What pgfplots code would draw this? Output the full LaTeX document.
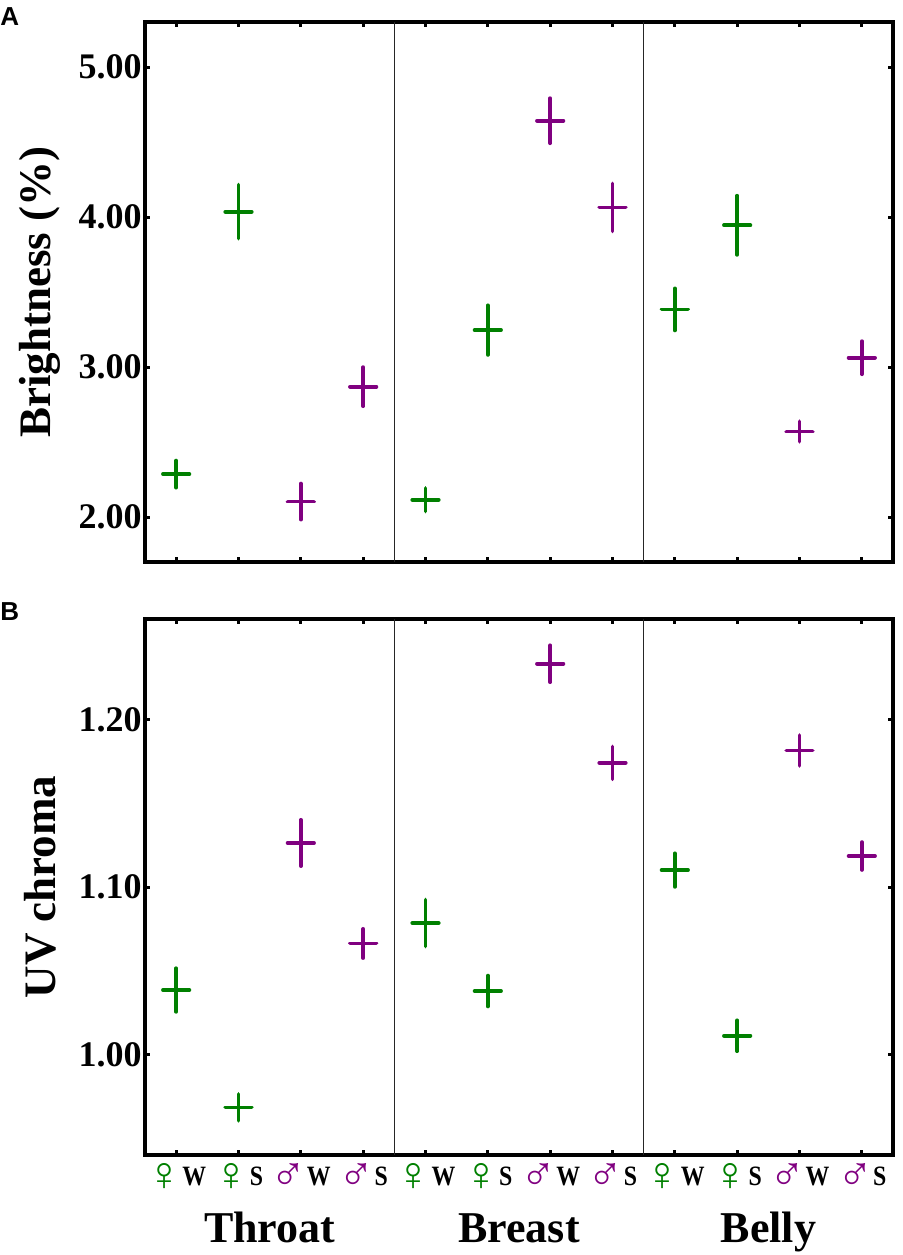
\documentclass[border=0pt]{standalone}
\usepackage{fontspec}
\setmainfont{Liberation Serif}
\setsansfont{Liberation Sans}
\newfontfamily\symfont{Liberation Serif}
\newfontfamily\condfont[FakeStretch=0.85]{Liberation Serif}
\usepackage{pgfplots}
\pgfplotsset{compat=1.18}
\usepackage{pgfplotstable}
\definecolor{fgreen}{RGB}{0,128,0}
\definecolor{mpurple}{RGB}{128,0,128}
\newcommand{\fem}{\raisebox{-2.5pt}{\symfont\fontsize{24}{24}\selectfont\color{fgreen}♀}}
\newcommand{\mal}{\raisebox{-2.5pt}{\symfont\fontsize{24}{24}\selectfont\color{mpurple}♂}}
\newcommand{\tl}[2]{#1{\condfont\bfseries #2}}

\pgfplotstableread{
x y e
0 2.286 0.090
1 4.036 0.180
4 2.115 0.078
5 3.246 0.165
8 3.384 0.140
9 3.945 0.197
}\AF
\pgfplotstableread{
x y e
2 2.103 0.120
3 2.869 0.130
6 4.642 0.150
7 4.064 0.160
10 2.570 0.068
11 3.062 0.110
}\AM
\pgfplotstableread{
x y e
0 1.0385 0.0130
1 0.9684 0.0080
4 1.0785 0.0140
5 1.0379 0.0092
8 1.1101 0.0100
9 1.0112 0.0092
}\BF
\pgfplotstableread{
x y e
2 1.1263 0.0138
3 1.0663 0.0087
6 1.2333 0.0110
7 1.1741 0.0098
10 1.1815 0.0092
11 1.1185 0.0083
}\BM

\pgfplotsset{
  panel/.style={
    scale only axis, width=374pt,
    xmin=-0.5, xmax=11.5,
    axis line style={line width=1.8pt},
    tick align=inside, major tick length=2.5pt,
    tick style={line width=1.5pt, black},
    xtick={0,...,11}, xtick pos=both, ytick pos=both,
    yticklabel style={font=\bfseries\fontsize{18}{18}\selectfont, inner xsep=1.5pt},
    /pgf/number format/assume math mode=true,
    /pgf/number format/fixed,
    /pgf/number format/fixed zerofill,
    /pgf/number format/precision=2,
    ylabel style={font=\bfseries\fontsize{22.5}{22.5}\selectfont,
      at={(axis description cs:-0.1404,0.5)}, anchor=center},
    clip=false,
  },
  fser/.style={only marks, mark=-, mark size=6.6pt, color=fgreen,
    mark options={line width=1.9pt, line cap=round},
    error bars/.cd, y dir=both, y explicit, error mark=none,
    error bar style={line width=1.9pt, line cap=round}},
  mser/.style={only marks, mark=-, mark size=6.6pt, color=mpurple,
    mark options={line width=1.9pt, line cap=round},
    error bars/.cd, y dir=both, y explicit, error mark=none,
    error bar style={line width=1.9pt, line cap=round}},
}

\begin{document}
\begin{tikzpicture}
\path[use as bounding box] (0,0) rectangle (451pt,-627.5pt);

\node[anchor=base west, inner sep=0pt, font=\sffamily\bfseries\fontsize{13}{13}\selectfont] at (0pt,-12.5pt) {A};
\node[anchor=base west, inner sep=0pt, font=\sffamily\bfseries\fontsize{13}{13}\selectfont] at (0pt,-310pt) {B};

\begin{axis}[panel, at={(72.5pt,-11pt)}, anchor=north west, height=270pt,
  ymin=1.70, ymax=5.30, ytick={2,3,4,5}, xticklabels={},
  ylabel={Brightness (\%)}]
  \draw[line width=0.6pt, black!85] (axis cs:3.5,1.70) -- (axis cs:3.5,5.30);
  \draw[line width=0.6pt, black!85] (axis cs:7.5,1.70) -- (axis cs:7.5,5.30);
  \addplot[fser] table[x=x, y=y, y error=e] {\AF};
  \addplot[mser] table[x=x, y=y, y error=e] {\AM};
\end{axis}

\begin{axis}[panel, at={(72.5pt,-309.5pt)}, anchor=north west, height=268pt,
  ymin=0.94, ymax=1.26, ytick={1.0,1.1,1.2},
  ylabel={UV chroma},
  xticklabels={{\tl{\fem}{W}},{\tl{\fem}{S}},{\tl{\mal}{W}},{\tl{\mal}{S}},
               {\tl{\fem}{W}},{\tl{\fem}{S}},{\tl{\mal}{W}},{\tl{\mal}{S}},
               {\tl{\fem}{W}},{\tl{\fem}{S}},{\tl{\mal}{W}},{\tl{\mal}{S}}},
  xticklabel style={anchor=base, yshift=-15pt, font=\fontsize{14}{14}\selectfont}]
  \draw[line width=0.6pt, black!85] (axis cs:3.5,0.94) -- (axis cs:3.5,1.26);
  \draw[line width=0.6pt, black!85] (axis cs:7.5,0.94) -- (axis cs:7.5,1.26);
  \addplot[fser] table[x=x, y=y, y error=e] {\BF};
  \addplot[mser] table[x=x, y=y, y error=e] {\BM};
  \node[anchor=base, yshift=-43.5pt, font=\bfseries\fontsize{22}{22}\selectfont] at (axis cs:1.5,0.94) {Throat};
  \node[anchor=base, yshift=-43.5pt, font=\bfseries\fontsize{22}{22}\selectfont] at (axis cs:5.5,0.94) {Breast};
  \node[anchor=base, yshift=-43.5pt, font=\bfseries\fontsize{22}{22}\selectfont] at (axis cs:9.5,0.94) {Belly};
\end{axis}
\end{tikzpicture}
\end{document}
